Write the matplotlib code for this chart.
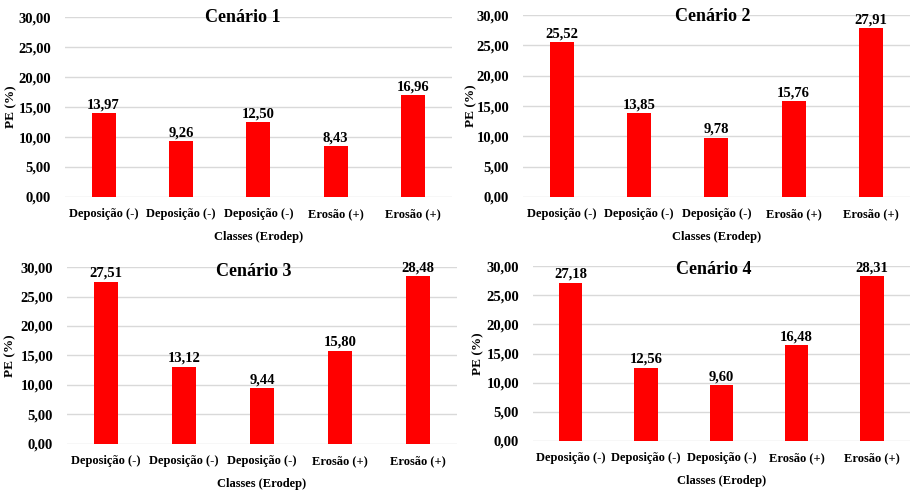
import matplotlib
matplotlib.use("Agg")
import matplotlib.pyplot as plt
from matplotlib.ticker import FuncFormatter

plt.rcParams['font.family'] = ['Liberation Serif', 'DejaVu Serif']
plt.rcParams['font.weight'] = 'bold'

# Classes and PE (%) values for each scenario
classes = ['Deposição (-)', 'Deposição (-)', 'Deposição (-)', 'Erosão (+)', 'Erosão (+)']
titles = ['Cenário 1', 'Cenário 2', 'Cenário 3', 'Cenário 4']
pe_c1 = [13.97, 9.26, 12.50, 8.43, 16.96]
pe_c2 = [25.52, 13.85, 9.78, 15.76, 27.91]
pe_c3 = [27.51, 13.12, 9.44, 15.80, 28.48]
pe_c4 = [27.18, 12.56, 9.60, 16.48, 28.31]
yticks = [0, 5, 10, 15, 20, 25, 30]


def br(v):
    # decimal comma, two places
    return f"{v:.2f}".replace('.', ',')


fig = plt.figure(figsize=(9.1, 4.9), dpi=100)

# axes boxes [left, bottom, width, height], title x and y-label x
boxes = [
    [0.0714, 0.598, 0.425, 0.367],
    [0.5747, 0.598, 0.425, 0.371],
    [0.0736, 0.094, 0.4286, 0.361],
    [0.5857, 0.100, 0.414, 0.357],
]
title_x = [0.46, 0.49, 0.48, 0.48]
title_y = [1.0, 0.995, 0.975, 0.98]
ylabel_x = [-0.124, -0.119, -0.129, -0.13]

for box, tx, ty, ylx, title, vals in zip(boxes, title_x, title_y, ylabel_x, titles,
                                          [pe_c1, pe_c2, pe_c3, pe_c4]):
    ax = fig.add_axes(box)
    x = range(len(classes))
    bars = ax.bar(x, vals, width=0.31, color='#FF0000', zorder=3)
    for b, v in zip(bars, vals):
        ax.text(b.get_x() + b.get_width() / 2, v + 0.3, br(v),
                ha='center', va='bottom', fontsize=10.5, fontweight='bold',
                zorder=4)

    ax.set_xlim(-0.5, 4.5)
    ax.set_ylim(0, 30)
    ax.set_yticks(yticks)
    ax.yaxis.set_major_formatter(FuncFormatter(lambda v, p: br(v)))
    ax.set_xticks(list(x))
    ax.set_xticklabels(classes, fontsize=9, fontweight='bold')
    ax.tick_params(axis='y', labelsize=10.5, length=0, pad=10)
    ax.tick_params(axis='x', length=0, pad=8)
    ax.grid(axis='y', color='#D9D9D9', linewidth=1, zorder=0)
    for s in ax.spines.values():
        s.set_visible(False)

    ax.set_xlabel('Classes (Erodep)', fontsize=9, fontweight='bold', labelpad=8)
    ax.set_ylabel('PE (%)', fontsize=9.5, fontweight='bold')
    ax.yaxis.set_label_coords(ylx, 0.5)
    ax.text(tx, ty, title, transform=ax.transAxes, ha='center', va='center',
            fontsize=13, fontweight='bold')

fig.savefig('out.png', dpi=100)
